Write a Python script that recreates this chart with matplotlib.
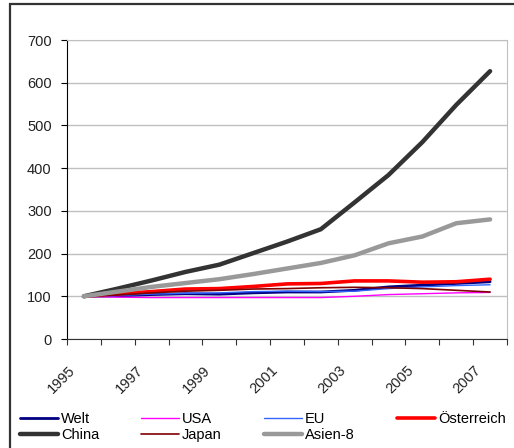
import matplotlib
matplotlib.use("Agg")
import matplotlib.pyplot as plt
import matplotlib.patches as mpatches
from matplotlib.transforms import ScaledTranslation

plt.rcParams['font.family'] = ['Liberation Sans', 'DejaVu Sans']

years = list(range(1995, 2008))
welt = [100, 101, 104, 106, 105, 108, 110, 110, 114, 122, 126, 130, 134]
usa = [100, 98, 97, 97, 97, 97, 97, 97, 100, 104, 106, 108, 109]
eu = [100, 102, 105, 107, 108, 111, 112, 111, 112, 118, 122, 125, 127]
oesterreich = [100, 106, 111, 117, 118, 123, 129, 130, 136, 136, 133, 134, 140]
china = [100, 118, 137, 157, 174, 201, 228, 257, 320, 384, 461, 548, 627]
japan = [100, 103, 108, 112, 114, 117, 118, 120, 121, 120, 118, 114, 110]
asien8 = [100, 111, 122, 131, 140, 152, 165, 178, 196, 224, 240, 271, 280]

series = [
    ("Welt", welt, "#000080", 2.0),
    ("USA", usa, "#FF00FF", 1.0),
    ("EU", eu, "#3366FF", 1.0),
    ("Österreich", oesterreich, "#FF0000", 2.6),
    ("China", china, "#333333", 3.2),
    ("Japan", japan, "#800000", 1.2),
    ("Asien-8", asien8, "#999999", 3.2),
]

fig = plt.figure(figsize=(5.14, 4.48), dpi=100)
ax = fig.add_axes([67 / 514, 1 - 339 / 448, 440 / 514, 299 / 448])

# chart frame
fig.patches.append(mpatches.Rectangle((10 / 514, -0.1), 1.2, (448 - 4) / 448 + 0.1,
                                      transform=fig.transFigure, fill=False,
                                      edgecolor="#333333", linewidth=1.6))

x = list(range(len(years)))
handles = {}
for name, vals, col, lw in series:
    ln, = ax.plot(x, vals, color=col, lw=lw, solid_capstyle="round",
                  solid_joinstyle="round", label=name)
    handles[name] = ln

ax.set_xlim(-0.5, len(years) - 0.5)
ax.set_ylim(0, 700)
ax.set_yticks(range(0, 701, 100))
ax.yaxis.grid(True, color="#C0C0C0", lw=1)
ax.set_axisbelow(True)

for s in ["top", "right"]:
    ax.spines[s].set_color("#C0C0C0")
ax.spines["left"].set_color("black")
ax.spines["bottom"].set_color("#333333")

# boundary ticks between categories, labels on every other year
ax.set_xticks([i - 0.5 for i in range(len(years) + 1)])
ax.set_xticklabels([])
ax.set_xticks(x[::2], minor=True)
ax.set_xticklabels([str(y) for y in years[::2]], minor=True)
ax.tick_params(axis="x", which="major", direction="out", length=4, color="#333333")
ax.tick_params(axis="x", which="minor", length=0, pad=21, labelsize=10.5, labelcolor="#222222")
ax.tick_params(axis="y", direction="out", length=4, pad=7, labelsize=10.5,
               labelcolor="#222222")
offset = ScaledTranslation(-11 / 100, 0, fig.dpi_scale_trans)
for lab in ax.get_xticklabels(minor=True):
    lab.set_rotation(45)
    lab.set_ha("right")
    lab.set_va("center")
    lab.set_rotation_mode("anchor")
    lab.set_transform(lab.get_transform() + offset)

order = ["Welt", "China", "USA", "Japan", "EU", "Asien-8", "Österreich"]
fig.legend([handles[n] for n in order], order, ncol=4, loc="upper left",
           bbox_to_anchor=(20 / 514, 1 - 412 / 448), frameon=False, fontsize=10.5,
           handlelength=2.6, handletextpad=0.2, columnspacing=2.9,
           labelspacing=0.12, borderaxespad=0, borderpad=0)

fig.savefig("out.png", dpi=100)
